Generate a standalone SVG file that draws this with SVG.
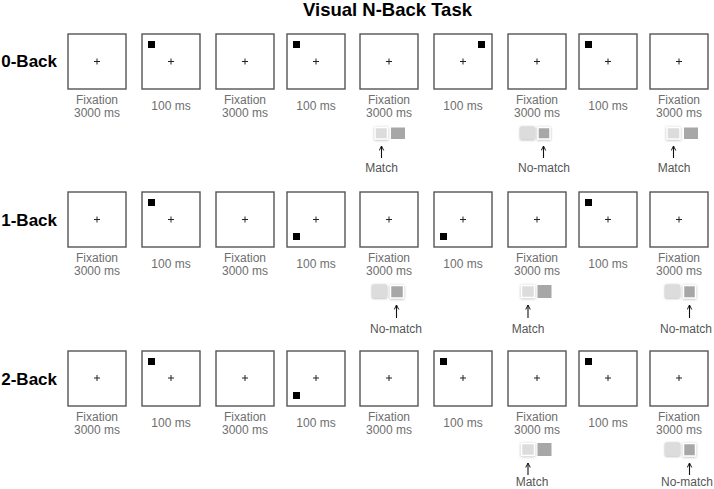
<svg xmlns="http://www.w3.org/2000/svg" width="714" height="489" viewBox="0 0 714 489">
<defs>
<style>
.frame{fill:#fff;stroke:#555;stroke-width:1.4}
.fx{stroke:#222;stroke-width:1}
.stim{fill:#000}
.lab{font-family:"Liberation Sans",Arial,sans-serif;font-size:12px;fill:#6e6e6e;text-anchor:middle}
.rlab{font-family:"Liberation Sans",Arial,sans-serif;font-size:17px;font-weight:bold;fill:#000;text-anchor:end}
.title{font-family:"Liberation Sans",Arial,sans-serif;font-size:18.5px;font-weight:bold;fill:#000;text-anchor:middle}
.resp{font-family:"Liberation Sans",Arial,sans-serif;font-size:12px;fill:#555;text-anchor:middle}
.lt{fill:#dcdcdc}
.dk{fill:#a7a7a7}
.hl{stroke:#fff;stroke-width:1.5}
.sh{filter:url(#shadow)}
.arr{stroke:#111;stroke-width:1.1;fill:none;marker-start:url(#head)}
</style>
<filter id="shadow" x="-40%" y="-40%" width="180%" height="180%">
<feDropShadow dx="0" dy="0.5" stdDeviation="1" flood-color="#888" flood-opacity="0.7"/>
</filter>
<marker id="head" viewBox="0 0 8 8" refX="7" refY="4" markerWidth="6" markerHeight="6" markerUnits="userSpaceOnUse" orient="auto-start-reverse">
<path d="M1,1 L7,4 L1,7" fill="none" stroke="#111" stroke-width="1.3"/>
</marker>
<path id="cross" d="M-3,0 H3 M0,-3 V3" class="fx"/>
</defs>

<text class="title" x="387.5" y="16">Visual N-Back Task</text>

<g id="row0">
<text class="rlab" x="57" y="67">0-Back</text>
<g id="r0f1"><rect class="frame" x="68" y="34" width="58" height="55"/><use href="#cross" x="97" y="61.5"/><text class="lab" x="97" y="104">Fixation</text><text class="lab" x="97" y="117">3000 ms</text></g>
<g id="r0f2"><rect class="frame" x="142" y="34" width="58" height="55"/><rect class="stim" x="148" y="41" width="7" height="7"/><use href="#cross" x="171" y="61.5"/><text class="lab" x="171" y="110">100 ms</text></g>
<g id="r0f3"><rect class="frame" x="216" y="34" width="58" height="55"/><use href="#cross" x="245" y="61.5"/><text class="lab" x="245" y="104">Fixation</text><text class="lab" x="245" y="117">3000 ms</text></g>
<g id="r0f4"><rect class="frame" x="287" y="34" width="58" height="55"/><rect class="stim" x="293" y="41" width="7" height="7"/><use href="#cross" x="316" y="61.5"/><text class="lab" x="316" y="110">100 ms</text></g>
<g id="r0f5"><rect class="frame" x="360" y="34" width="58" height="55"/><use href="#cross" x="389" y="61.5"/><text class="lab" x="389" y="104">Fixation</text><text class="lab" x="389" y="117">3000 ms</text>
<rect class="lt hl sh" x="375" y="127.5" width="12.5" height="11.5"/><rect class="dk" x="391" y="127.5" width="14" height="11.5"/></g>
<g id="r0f6"><rect class="frame" x="434" y="34" width="58" height="55"/><rect class="stim" x="478" y="41" width="7" height="7"/><use href="#cross" x="463" y="61.5"/><text class="lab" x="463" y="110">100 ms</text></g>
<g id="r0f7"><rect class="frame" x="508" y="34" width="58" height="55"/><use href="#cross" x="537" y="61.5"/><text class="lab" x="537" y="104">Fixation</text><text class="lab" x="537" y="117">3000 ms</text>
<rect class="lt sh" x="520" y="126.5" width="15" height="13" rx="1.5"/><rect class="dk hl sh" x="538" y="127.5" width="12" height="11.5"/></g>
<g id="r0f8"><rect class="frame" x="579" y="34" width="58" height="55"/><rect class="stim" x="585" y="41" width="7" height="7"/><use href="#cross" x="608" y="61.5"/><text class="lab" x="608" y="110">100 ms</text></g>
<g id="r0f9"><rect class="frame" x="650" y="34" width="58" height="55"/><use href="#cross" x="679" y="61.5"/><text class="lab" x="679" y="104">Fixation</text><text class="lab" x="679" y="117">3000 ms</text>
<rect class="lt hl sh" x="667" y="127.5" width="13" height="11.5"/><rect class="dk" x="684" y="127.5" width="14" height="11.5"/></g>
<text class="resp" x="381.5" y="171.5">Match</text>
<text class="resp" x="544" y="171.5">No-match</text>
<text class="resp" x="674" y="171.5">Match</text>
</g>

<g id="row1">
<text class="rlab" x="57" y="226">1-Back</text>
<g id="r1f1"><rect class="frame" x="68" y="192" width="58" height="55"/><use href="#cross" x="97" y="219.5"/><text class="lab" x="97" y="262">Fixation</text><text class="lab" x="97" y="275">3000 ms</text></g>
<g id="r1f2"><rect class="frame" x="142" y="192" width="58" height="55"/><rect class="stim" x="148" y="199" width="7" height="7"/><use href="#cross" x="171" y="219.5"/><text class="lab" x="171" y="268">100 ms</text></g>
<g id="r1f3"><rect class="frame" x="216" y="192" width="58" height="55"/><use href="#cross" x="245" y="219.5"/><text class="lab" x="245" y="262">Fixation</text><text class="lab" x="245" y="275">3000 ms</text></g>
<g id="r1f4"><rect class="frame" x="287" y="192" width="58" height="55"/><rect class="stim" x="293" y="233" width="7" height="7"/><use href="#cross" x="316" y="219.5"/><text class="lab" x="316" y="268">100 ms</text></g>
<g id="r1f5"><rect class="frame" x="360" y="192" width="58" height="55"/><use href="#cross" x="389" y="219.5"/><text class="lab" x="389" y="262">Fixation</text><text class="lab" x="389" y="275">3000 ms</text>
<rect class="lt sh" x="372" y="284.5" width="15" height="13.5" rx="1.5"/><rect class="dk hl sh" x="390.5" y="285.5" width="13" height="12.5"/></g>
<g id="r1f6"><rect class="frame" x="434" y="192" width="58" height="55"/><rect class="stim" x="440" y="233" width="7" height="7"/><use href="#cross" x="463" y="219.5"/><text class="lab" x="463" y="268">100 ms</text></g>
<g id="r1f7"><rect class="frame" x="508" y="192" width="58" height="55"/><use href="#cross" x="537" y="219.5"/><text class="lab" x="537" y="262">Fixation</text><text class="lab" x="537" y="275">3000 ms</text>
<rect class="lt hl sh" x="521.5" y="285.5" width="13" height="12"/><rect class="dk" x="537.5" y="285" width="14" height="13"/></g>
<g id="r1f8"><rect class="frame" x="579" y="192" width="58" height="55"/><rect class="stim" x="585" y="199" width="7" height="7"/><use href="#cross" x="608" y="219.5"/><text class="lab" x="608" y="268">100 ms</text></g>
<g id="r1f9"><rect class="frame" x="650" y="192" width="58" height="55"/><use href="#cross" x="679" y="219.5"/><text class="lab" x="679" y="262">Fixation</text><text class="lab" x="679" y="275">3000 ms</text>
<rect class="lt sh" x="665" y="284.5" width="15" height="13.5" rx="1.5"/><rect class="dk hl sh" x="683.5" y="285.5" width="12" height="12.5"/></g>
<text class="resp" x="396" y="333">No-match</text>
<text class="resp" x="528" y="333">Match</text>
<text class="resp" x="686" y="333">No-match</text>
</g>

<g id="row2">
<text class="rlab" x="57" y="385">2-Back</text>
<g id="r2f1"><rect class="frame" x="68" y="351" width="58" height="55"/><use href="#cross" x="97" y="378"/><text class="lab" x="97" y="420.5">Fixation</text><text class="lab" x="97" y="433.5">3000 ms</text></g>
<g id="r2f2"><rect class="frame" x="142" y="351" width="58" height="55"/><rect class="stim" x="148" y="358" width="7" height="7"/><use href="#cross" x="171" y="378"/><text class="lab" x="171" y="426.5">100 ms</text></g>
<g id="r2f3"><rect class="frame" x="216" y="351" width="58" height="55"/><use href="#cross" x="245" y="378"/><text class="lab" x="245" y="420.5">Fixation</text><text class="lab" x="245" y="433.5">3000 ms</text></g>
<g id="r2f4"><rect class="frame" x="287" y="351" width="58" height="55"/><rect class="stim" x="293" y="392" width="7" height="7"/><use href="#cross" x="316" y="378"/><text class="lab" x="316" y="426.5">100 ms</text></g>
<g id="r2f5"><rect class="frame" x="360" y="351" width="58" height="55"/><use href="#cross" x="389" y="378"/><text class="lab" x="389" y="420.5">Fixation</text><text class="lab" x="389" y="433.5">3000 ms</text></g>
<g id="r2f6"><rect class="frame" x="434" y="351" width="58" height="55"/><rect class="stim" x="440" y="358" width="7" height="7"/><use href="#cross" x="463" y="378"/><text class="lab" x="463" y="426.5">100 ms</text></g>
<g id="r2f7"><rect class="frame" x="508" y="351" width="58" height="55"/><use href="#cross" x="537" y="378"/><text class="lab" x="537" y="420.5">Fixation</text><text class="lab" x="537" y="433.5">3000 ms</text>
<rect class="lt hl sh" x="521.5" y="443.5" width="13" height="12"/><rect class="dk" x="537.5" y="443" width="14" height="13"/></g>
<g id="r2f8"><rect class="frame" x="579" y="351" width="58" height="55"/><rect class="stim" x="585" y="358" width="7" height="7"/><use href="#cross" x="608" y="378"/><text class="lab" x="608" y="426.5">100 ms</text></g>
<g id="r2f9"><rect class="frame" x="650" y="351" width="58" height="55"/><use href="#cross" x="679" y="378"/><text class="lab" x="679" y="420.5">Fixation</text><text class="lab" x="679" y="433.5">3000 ms</text>
<rect class="lt sh" x="665" y="442.5" width="15" height="13.5" rx="1.5"/><rect class="dk hl sh" x="683.5" y="443.5" width="12" height="12.5"/></g>
<text class="resp" x="532" y="486">Match</text>
<text class="resp" x="687" y="486">No-match</text>
</g>

<g id="connectors">
<path class="arr" d="M381.5,146 V158"/>
<path class="arr" d="M543.5,146 V158"/>
<path class="arr" d="M673.5,146 V158"/>
<path class="arr" d="M396.5,305 V318"/>
<path class="arr" d="M528,305 V318"/>
<path class="arr" d="M689.5,305 V318"/>
<path class="arr" d="M528,463 V475"/>
<path class="arr" d="M689.5,463 V475"/>
</g>
</svg>
